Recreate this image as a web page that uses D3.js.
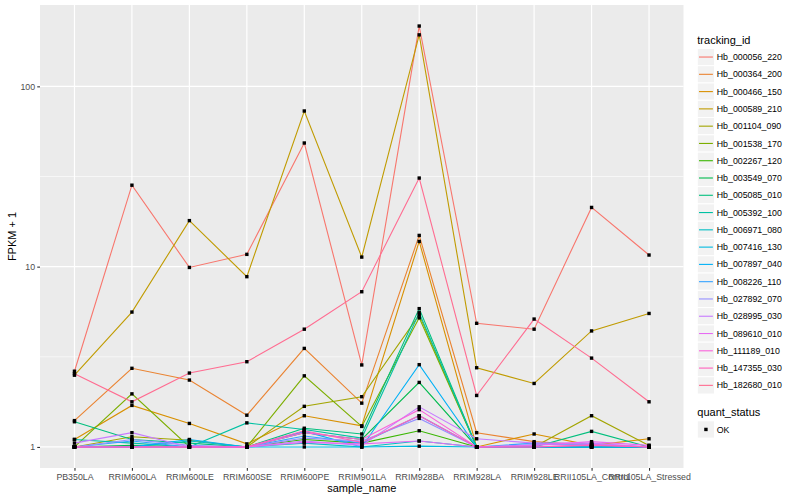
<!DOCTYPE html>
<html>
<head>
<meta charset="utf-8">
<script src="https://cdnjs.cloudflare.com/ajax/libs/d3/7.8.5/d3.min.js"></script>
<style>
body { margin: 0; background: #fff; }
text { font-family: "Liberation Sans", Arial, Helvetica, sans-serif; }
</style>
</head>
<body>
<svg id="chart" width="800" height="500"></svg>
<script>
// samples on the x axis
var samples = ["PB350LA", "RRIM600LA", "RRIM600LE", "RRIM600SE", "RRIM600PE", "RRIM901LA",
	"RRIM928BA", "RRIM928LA", "RRIM928LE", "RRII105LA_Control", "RRII105LA_Stressed"];

var trackingIds = ["Hb_000056_220", "Hb_000364_200", "Hb_000466_150", "Hb_000589_210", "Hb_001104_090",
	"Hb_001538_170", "Hb_002267_120", "Hb_003549_070", "Hb_005085_010", "Hb_005392_100",
	"Hb_006971_080", "Hb_007416_130", "Hb_007897_040", "Hb_008226_110", "Hb_027892_070",
	"Hb_028995_030", "Hb_089610_010", "Hb_111189_010", "Hb_147355_030", "Hb_182680_010"];

var hueColors = ["#F8766D", "#EA8331", "#D89000", "#C09B00", "#A3A500", "#7CAE00", "#39B600", "#00BB4E",
	"#00BF7D", "#00C1A3", "#00BFC4", "#00BAE0", "#00B0F6", "#35A2FF", "#9590FF", "#C77CFF",
	"#E76BF3", "#FA62DB", "#FF62BC", "#FF6C91"];

// FPKM + 1, one value per sample
var hb000056 = [2.63, 28.3, 9.9, 11.7, 48.5, 2.85, 216, 4.85, 4.5, 21.3, 11.6];
var hb000364 = [1.40, 2.73, 2.35, 1.50, 3.52, 1.75, 14.9, 1.20, 1.07, 1.02, 1.0];
var hb000466 = [1.10, 1.70, 1.35, 1.04, 1.49, 1.31, 13.8, 1.0, 1.18, 1.02, 1.11];
var hb000589 = [2.50, 5.6, 18.0, 8.8, 73, 11.3, 193, 2.75, 2.25, 4.4, 5.5];
var hb001104 = [1.0, 1.14, 1.09, 1.0, 1.68, 1.9, 5.4, 1.0, 1.0, 1.49, 1.02];
var hb001538 = [1.0, 1.97, 1.0, 1.0, 2.48, 1.3, 5.2, 1.0, 1.0, 1.0, 1.0];
var hb002267 = [1.0, 1.0, 1.0, 1.0, 1.1, 1.05, 1.23, 1.0, 1.0, 1.0, 1.0];
var hb003549 = [1.0, 1.02, 1.0, 1.0, 1.2, 1.1, 2.28, 1.0, 1.0, 1.0, 1.0];
var hb005085 = [1.38, 1.1, 1.05, 1.0, 1.27, 1.18, 5.85, 1.0, 1.0, 1.22, 1.0];
var hb005392 = [1.1, 1.05, 1.0, 1.36, 1.25, 1.12, 5.55, 1.0, 1.0, 1.0, 1.0];
var hb006971 = [1.0, 1.0, 1.08, 1.0, 1.05, 1.0, 1.08, 1.0, 1.0, 1.0, 1.0];
var hb007416 = [1.0, 1.0, 1.0, 1.0, 1.0, 1.0, 1.01, 1.0, 1.0, 1.0, 1.0];
var hb007897 = [1.0, 1.0, 1.1, 1.0, 1.22, 1.0, 2.86, 1.0, 1.0, 1.0, 1.0];
var hb008226 = [1.0, 1.08, 1.0, 1.0, 1.15, 1.05, 1.49, 1.0, 1.05, 1.03, 1.0];
var hb027892 = [1.0, 1.1, 1.02, 1.0, 1.12, 1.08, 1.44, 1.0, 1.03, 1.04, 1.0];
var hb028995 = [1.05, 1.2, 1.0, 1.0, 1.08, 1.02, 1.67, 1.11, 1.05, 1.05, 1.0];
var hb089610 = [1.0, 1.0, 1.0, 1.0, 1.06, 1.04, 1.08, 1.0, 1.02, 1.07, 1.02];
var hb111189 = [1.0, 1.0, 1.0, 1.0, 1.2, 1.1, 1.61, 1.0, 1.0, 1.03, 1.0];
var hb147355 = [1.0, 1.0, 1.0, 1.0, 1.23, 1.06, 1.49, 1.0, 1.0, 1.02, 1.0];
var hb182680 = [2.55, 1.78, 2.57, 2.97, 4.5, 7.26, 31, 1.93, 5.12, 3.11, 1.78];

var yTicks = [1, 10, 100];
var yMinorTicks = [3.162, 31.62];
var statusLevels = ["OK"];

var allSeries = [hb000056, hb000364, hb000466, hb000589, hb001104, hb001538, hb002267, hb003549,
	hb005085, hb005392, hb006971, hb007416, hb007897, hb008226, hb027892, hb028995,
	hb089610, hb111189, hb147355, hb182680];

var svg = d3.select("#chart");
var panel = {left: 40, right: 683.5, top: 5, bottom: 468};

var x = d3.scalePoint()
	.domain(samples)
	.range([panel.left, panel.right])
	.padding(0.6);

// ggplot style 5% expansion in log space
var lo = Math.log10(d3.min(allSeries, function(s){ return d3.min(s); }));
var hi = Math.log10(d3.max(allSeries, function(s){ return d3.max(s); }));
var pad = (hi - lo) * 0.05;
var y = d3.scaleLog()
	.domain([Math.pow(10, lo - pad), Math.pow(10, hi + pad)])
	.range([panel.bottom, panel.top]);

svg.append("rect")
	.attr("x", panel.left).attr("y", panel.top)
	.attr("width", panel.right - panel.left).attr("height", panel.bottom - panel.top)
	.attr("fill", "#EBEBEB");

var grid = svg.append("g");
grid.selectAll(".minor").data(yMinorTicks).enter()
	.append("line")
	.attr("x1", panel.left).attr("x2", panel.right)
	.attr("y1", function(d){ return y(d); }).attr("y2", function(d){ return y(d); })
	.attr("stroke", "#fff").attr("stroke-width", 0.6);
grid.selectAll(".major").data(yTicks).enter()
	.append("line")
	.attr("x1", panel.left).attr("x2", panel.right)
	.attr("y1", function(d){ return y(d); }).attr("y2", function(d){ return y(d); })
	.attr("stroke", "#fff").attr("stroke-width", 1.2);
grid.selectAll(".vmajor").data(samples).enter()
	.append("line")
	.attr("x1", function(d){ return x(d); }).attr("x2", function(d){ return x(d); })
	.attr("y1", panel.top).attr("y2", panel.bottom)
	.attr("stroke", "#fff").attr("stroke-width", 1.2);

// axes
var xAxis = svg.append("g")
	.attr("transform", "translate(0," + panel.bottom + ")")
	.call(d3.axisBottom(x).tickSize(2.75).tickPadding(2.6));
var yAxis = svg.append("g")
	.attr("transform", "translate(" + panel.left + ",0)")
	.call(d3.axisLeft(y).tickValues(yTicks).tickFormat(d3.format("d")).tickSize(2.75).tickPadding(2.2));
[xAxis, yAxis].forEach(function(ax){
	ax.select(".domain").remove();
	ax.selectAll(".tick line").attr("stroke", "#333333").attr("stroke-width", 1.1);
	ax.selectAll(".tick text")
		.attr("fill", "#4D4D4D")
		.style("font-size", "8.8px")
		.style("font-family", "'Liberation Sans', Arial, sans-serif");
});

// lines
var line = d3.line()
	.x(function(d, i){ return x(samples[i]); })
	.y(function(d){ return y(d); });

svg.append("g").selectAll("path")
	.data(allSeries).enter()
	.append("path")
	.attr("d", line)
	.attr("fill", "none")
	.attr("stroke", function(d, i){ return hueColors[i]; })
	.attr("stroke-width", 1.1);

// points
var pts = svg.append("g");
allSeries.forEach(function(s){
	pts.selectAll(null)
		.data(s).enter()
		.append("rect")
		.attr("x", function(d, i){ return x(samples[i]) - 1.7; })
		.attr("y", function(d){ return y(d) - 1.7; })
		.attr("width", 3.4).attr("height", 3.4)
		.attr("fill", "#000");
});

// axis titles
svg.append("text")
	.attr("x", (panel.left + panel.right) / 2).attr("y", 492)
	.attr("text-anchor", "middle")
	.style("font-size", "11px")
	.text("sample_name");
svg.append("text")
	.attr("transform", "translate(16," + ((panel.top + panel.bottom) / 2) + ") rotate(-90)")
	.attr("text-anchor", "middle")
	.style("font-size", "11px")
	.text("FPKM + 1");

// legends
var legend = svg.append("g");
var keyX = 697.3, keySize = 17.28, firstKeyTop = 48.4;
legend.append("text")
	.attr("x", keyX).attr("y", 44)
	.style("font-size", "11px")
	.text("tracking_id");

var rows = legend.selectAll(".row")
	.data(trackingIds).enter()
	.append("g")
	.attr("transform", function(d, i){ return "translate(" + keyX + "," + (firstKeyTop + i * keySize) + ")"; });
rows.append("rect")
	.attr("width", keySize).attr("height", keySize)
	.attr("fill", "#F2F2F2").attr("stroke", "#fff").attr("stroke-width", 1);
rows.append("line")
	.attr("x1", 1.7).attr("x2", keySize - 1.7)
	.attr("y1", keySize / 2).attr("y2", keySize / 2)
	.attr("stroke", function(d, i){ return hueColors[i]; })
	.attr("stroke-width", 1.1);
rows.append("text")
	.attr("x", keySize + 2.2).attr("y", keySize / 2 + 3.1)
	.style("font-size", "8.8px")
	.text(function(d){ return d; });

var statusTop = 420.8;
legend.append("text")
	.attr("x", keyX).attr("y", 416.2)
	.style("font-size", "11px")
	.text("quant_status");
var srows = legend.selectAll(".srow")
	.data(statusLevels).enter()
	.append("g")
	.attr("transform", function(d, i){ return "translate(" + keyX + "," + (statusTop + i * keySize) + ")"; });
srows.append("rect")
	.attr("width", keySize).attr("height", keySize)
	.attr("fill", "#F2F2F2").attr("stroke", "#fff").attr("stroke-width", 1);
srows.append("rect")
	.attr("x", keySize / 2 - 1.7).attr("y", keySize / 2 - 1.7)
	.attr("width", 3.4).attr("height", 3.4)
	.attr("fill", "#000");
srows.append("text")
	.attr("x", keySize + 2.2).attr("y", keySize / 2 + 3.1)
	.style("font-size", "8.8px")
	.text(function(d){ return d; });
</script>
</body>
</html>
